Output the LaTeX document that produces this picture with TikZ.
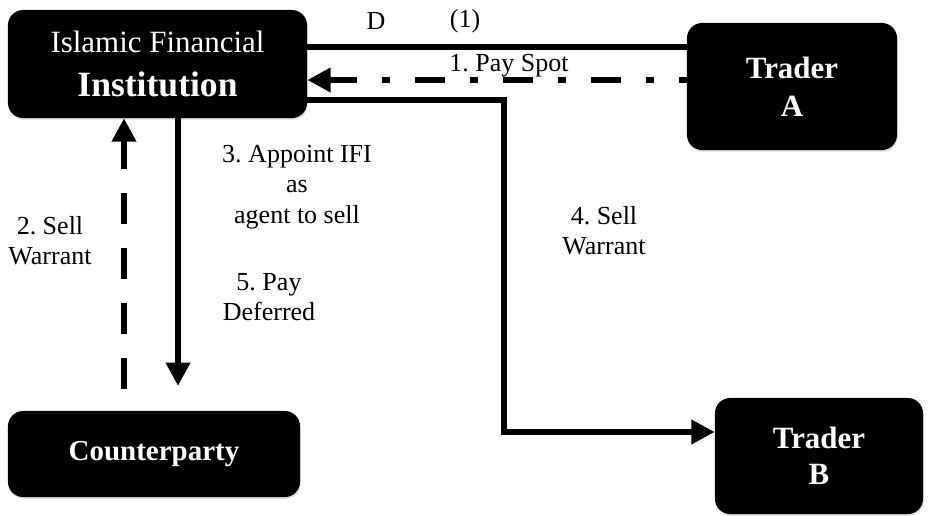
\documentclass[tikz,border=0pt]{standalone}
\usepackage{fontspec}
\setmainfont{Liberation Serif}
\frenchspacing
\usepackage{tikz}
\usetikzlibrary{arrows.meta, shadows}
\tikzstyle{party} = [rectangle, rounded corners=0.38cm, fill=black, text=white, align=center, inner sep=0pt, drop shadow={shadow xshift=0.5pt, shadow yshift=-1.2pt, opacity=0.3}]
\tikzstyle{note} = [align=center, font=\fontsize{18.5}{21.5}\selectfont, inner sep=0pt]
\tikzstyle{bar} = [line width=4.6pt]
\tikzstyle{flow} = [line width=4.6pt, -{Triangle[length=0.58cm, width=0.58cm]}]

\begin{document}
\begin{tikzpicture}[x=0.025cm, y=-0.025cm]

        \useasboundingbox (0,0) rectangle (928,515);

        \node (ifi) [party, minimum width=7.475cm, minimum height=2.7cm, font=\fontsize{22}{30}\selectfont] at (157.5,64) {Islamic Financial\\[1pt]\fontsize{25.3}{30}\selectfont\bfseries Institution};
        \node (traderA) [party, minimum width=5.25cm, minimum height=3.175cm, font=\fontsize{22}{27}\selectfont\bfseries] at (792,86.5) {Trader\\A};
        \node (cp) [party, minimum width=7.3cm, minimum height=2.15cm, font=\fontsize{20.6}{24}\selectfont\bfseries] at (154,454) {Counterparty};
        \node (traderB) [party, minimum width=5.2cm, minimum height=2.9cm, font=\fontsize{22}{25.6}\selectfont\bfseries] at (819,456) {Trader\\B};

        \draw [bar] (ifi.east |- 0,47) -- (traderA.west |- 0,47);
        \draw [flow, dash pattern=on 21.3pt off 17.8pt on 5.7pt off 17.8pt, dash phase=15.6pt] (traderA.west |- 0,80) -- (ifi.east |- 0,80);
        \draw [flow] (ifi.east |- 0,100) -| (504,432) -- (traderB.west |- 0,432);
        \draw [flow, shorten >=0.62cm] (ifi.south -| 178,0) -- (cp.north -| 178,0);
        \draw [flow, dash pattern=on 22pt off 17pt, shorten <=0.55cm] (cp.north -| 124,0) -- (ifi.south -| 124,0);

        \node (d) [note] at (376,21) {D};
        \node (one) [note] at (465,21) {(1)};
        \node (paySpot) [note] at (509,66) {1. Pay Spot};
        \node (appoint) [note] at (297,187) {3. Appoint IFI\\as\\agent to sell};
        \node (sellTwo) [note] at (50,241) {2. Sell\\Warrant};
        \node (payDeferred) [note] at (269,297) {5. Pay\\Deferred};
        \node (sellFour) [note] at (604,231) {4. Sell\\Warrant};

    \end{tikzpicture}
\end{document}
